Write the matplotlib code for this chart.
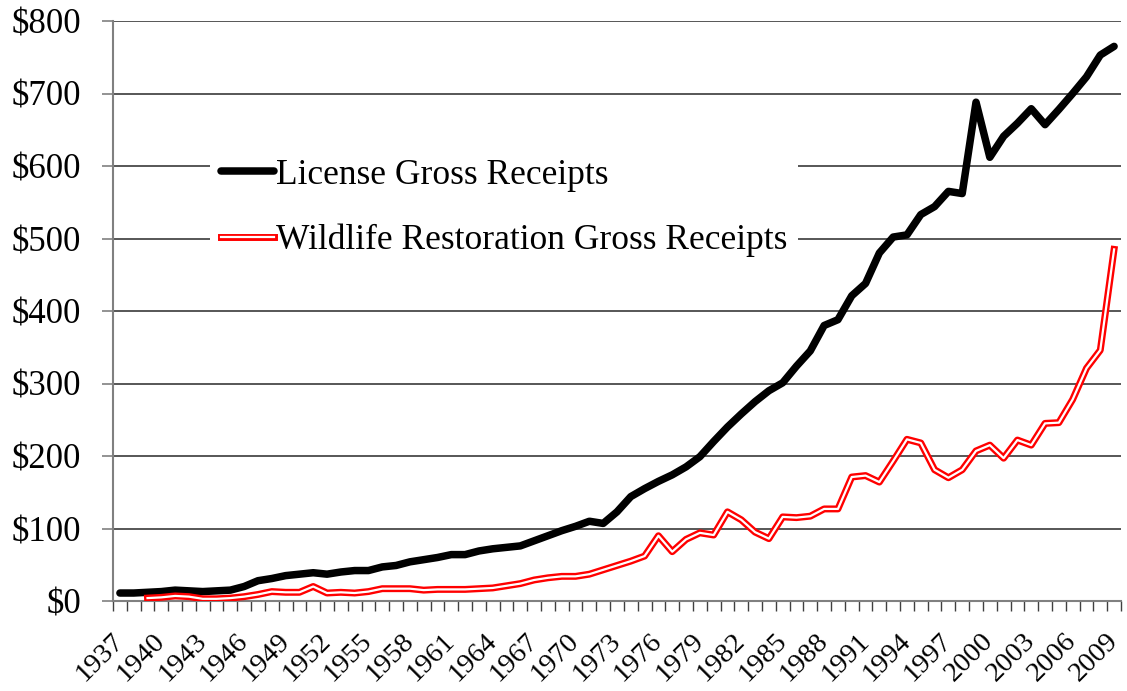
import matplotlib
matplotlib.use("Agg")
import matplotlib.pyplot as plt
import matplotlib.patheffects as pe
from matplotlib.ticker import FixedLocator, NullFormatter, FuncFormatter

years = list(range(1937, 2010))

license_receipts = [
    11, 11, 12, 13, 15, 14, 13, 14, 15, 20,
    28, 31, 35, 37, 39, 37, 40, 42, 42, 47,
    49, 54, 57, 60, 64, 64, 69, 72, 74, 76,
    83, 90, 97, 103, 110, 107, 123, 144, 155, 165,
    174, 185, 199, 220, 240, 258, 275, 290, 301, 324,
    345, 380, 388, 421, 438, 480, 502, 505, 533, 544,
    565, 562, 688, 612, 641, 659, 679, 657, 678, 700,
    723, 753, 765,
]

wr_years = list(range(1939, 2010))
wildlife_receipts = [
    4, 5, 7, 6, 3, 3, 4, 6, 9, 13,
    12, 12, 20, 11, 12, 11, 13, 17, 17, 17,
    15, 16, 16, 16, 17, 18, 21, 24, 29, 32,
    34, 34, 37, 43, 49, 55, 62, 90, 68, 85,
    94, 91, 123, 112, 95, 86, 116, 115, 117, 127,
    127, 171, 173, 164, 193, 223, 218, 181, 170, 181,
    207, 215, 197, 222, 215, 245, 246, 278, 321, 346,
    485,
]

label_years = list(range(1937, 2010, 3))
y_ticks = [0, 100, 200, 300, 400, 500, 600, 700, 800]

plt.rcParams['font.family'] = ['Liberation Serif', 'DejaVu Serif']

fig = plt.figure(figsize=(11.27, 6.91), dpi=100)
ax = fig.add_axes([113 / 1127, 1 - 601 / 691, 1008 / 1127, 580 / 691])

x_lic = [y - 1937 for y in years]
x_wr = [y - 1937 for y in wr_years]

ax.plot(x_lic, license_receipts, color='black', linewidth=5.4,
        solid_capstyle='round', solid_joinstyle='round',
        label='License Gross Receipts', zorder=3)
ax.plot(x_wr, wildlife_receipts, color='white', linewidth=1.6,
        solid_joinstyle='round',
        path_effects=[pe.Stroke(linewidth=5.0, foreground='#ff0000'), pe.Normal()],
        label='Wildlife Restoration Gross Receipts', zorder=3)

ax.set_xlim(-0.5, len(years) - 0.5)
ax.set_ylim(0, 800)

# y axis
ax.yaxis.set_major_locator(FixedLocator(y_ticks))
ax.yaxis.set_major_formatter(FuncFormatter(lambda v, p: f"${int(v)}"))
ax.tick_params(axis='y', which='major', direction='out', length=8, width=1.2,
               color='#808080', labelsize=25, pad=15)
ax.grid(axis='y', color='#3a3a3a', linewidth=1.2, zorder=0)

# x axis: ticks on category boundaries, labels every 3 years
ax.xaxis.set_major_locator(FixedLocator([i - 0.5 for i in range(len(years) + 1)]))
ax.xaxis.set_major_formatter(NullFormatter())
ax.xaxis.set_minor_locator(FixedLocator([y - 1937 for y in label_years]))
ax.set_xticklabels([str(y) for y in label_years], minor=True)
ax.tick_params(axis='x', which='major', direction='out', length=7, width=1.0,
               color='#404040')
ax.tick_params(axis='x', which='minor', length=0, labelsize=20.5, pad=26)
for lab in ax.get_xticklabels(minor=True):
    lab.set_rotation(45)
    lab.set_ha('right')
    lab.set_va('center')
    lab.set_rotation_mode('anchor')

for s in ['top', 'right']:
    ax.spines[s].set_visible(False)
ax.spines['left'].set_color('#808080')
ax.spines['left'].set_linewidth(1.5)
ax.spines['bottom'].set_color('#808080')
ax.spines['bottom'].set_linewidth(1.5)
ax.set_axisbelow(True)

leg = ax.legend(loc='upper left', bbox_to_anchor=(210 / 1127, 1 - 148 / 691),
                bbox_transform=fig.transFigure, fontsize=25.5, frameon=True,
                handlelength=1.5, handletextpad=0.05, labelspacing=0.9,
                borderpad=0.3, borderaxespad=0)
leg.get_frame().set_facecolor('white')
leg.get_frame().set_edgecolor('none')
leg.get_frame().set_alpha(1)
leg.set_zorder(4)

fig.savefig('out.png', dpi=100)
